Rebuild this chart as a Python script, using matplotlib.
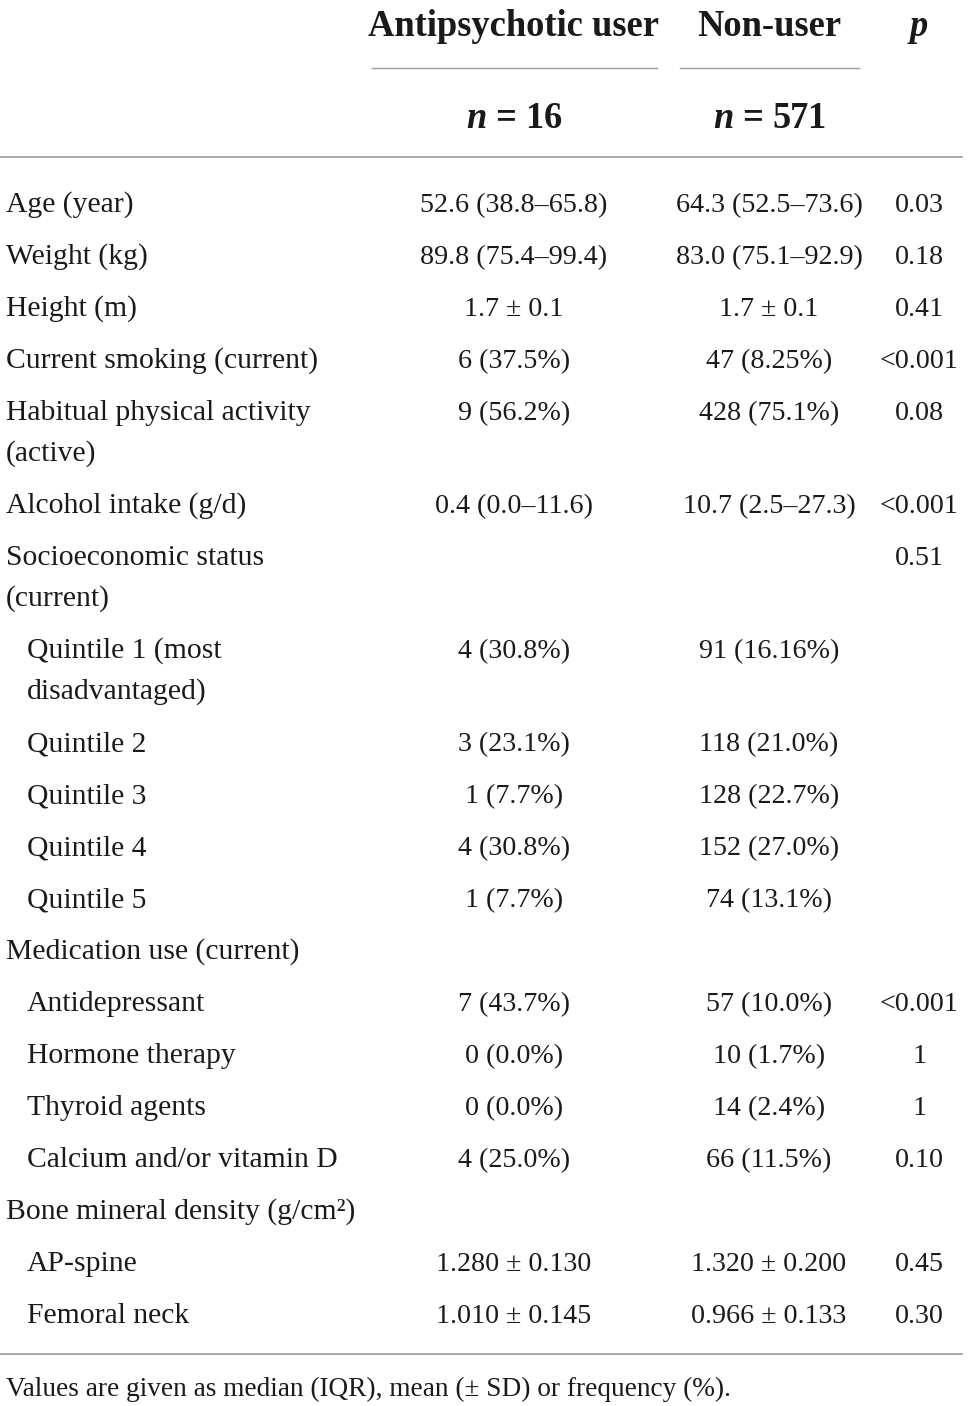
import matplotlib

matplotlib.use("Agg")
import matplotlib.pyplot as plt

# table content
row_labels = [
    "Age (year)",
    "Weight (kg)",
    "Height (m)",
    "Current smoking (current)",
    "Habitual physical activity\n(active)",
    "Alcohol intake (g/d)",
    "Socioeconomic status\n(current)",
    "Quintile 1 (most\ndisadvantaged)",
    "Quintile 2",
    "Quintile 3",
    "Quintile 4",
    "Quintile 5",
    "Medication use (current)",
    "Antidepressant",
    "Hormone therapy",
    "Thyroid agents",
    "Calcium and/or vitamin D",
    "Bone mineral density (g/cm²)",
    "AP-spine",
    "Femoral neck",
]
indent = [0, 0, 0, 0, 0, 0, 0, 1, 1, 1, 1, 1, 0, 1, 1, 1, 1, 0, 1, 1]
user_vals = [
    "52.6 (38.8–65.8)", "89.8 (75.4–99.4)", "1.7 ± 0.1", "6 (37.5%)", "9 (56.2%)",
    "0.4 (0.0–11.6)", "", "4 (30.8%)", "3 (23.1%)", "1 (7.7%)", "4 (30.8%)",
    "1 (7.7%)", "", "7 (43.7%)", "0 (0.0%)", "0 (0.0%)", "4 (25.0%)", "",
    "1.280 ± 0.130", "1.010 ± 0.145",
]
nonuser_vals = [
    "64.3 (52.5–73.6)", "83.0 (75.1–92.9)", "1.7 ± 0.1", "47 (8.25%)", "428 (75.1%)",
    "10.7 (2.5–27.3)", "", "91 (16.16%)", "118 (21.0%)", "128 (22.7%)", "152 (27.0%)",
    "74 (13.1%)", "", "57 (10.0%)", "10 (1.7%)", "14 (2.4%)", "66 (11.5%)", "",
    "1.320 ± 0.200", "0.966 ± 0.133",
]
p_vals = [
    "0.03", "0.18", "0.41", "<0.001", "0.08", "<0.001", "0.51", "", "", "", "", "",
    "", "<0.001", "1", "1", "0.10", "", "0.45", "0.30",
]
headers = ["Antipsychotic user", "Non-user", "p"]
group_n = ["16", "571"]
footnote = "Values are given as median (IQR), mean (± SD) or frequency (%)."

plt.rcParams["font.family"] = ["Liberation Serif", "DejaVu Serif"]
plt.rcParams["mathtext.fontset"] = "custom"
plt.rcParams["mathtext.it"] = "Liberation Serif:italic:bold"
plt.rcParams["mathtext.rm"] = "Liberation Serif:bold"

W, H = 968, 1406
fig = plt.figure(figsize=(W / 100, H / 100), dpi=100)
ax = fig.add_axes([0, 0, 1, 1])
ax.set_xlim(0, W)
ax.set_ylim(H, 0)
ax.axis("off")

col_x = [514, 769, 919]
lab_fs = 21.3
val_fs = 20.2
hfs = 26.3
txt = "#1a1a1a"
rule = "#9a9a9a"

# header
ax.text(col_x[0], 22, headers[0], ha="center", va="center_baseline", fontsize=hfs,
        fontweight="bold", color=txt)
ax.text(col_x[1], 22, headers[1], ha="center", va="center_baseline", fontsize=hfs,
        fontweight="bold", color=txt)
ax.text(col_x[2], 22, headers[2], ha="center", va="center_baseline", fontsize=hfs,
        fontweight="bold", style="italic", color=txt)
ax.plot([372, 657], [68, 68], color=rule, lw=1)
ax.plot([680, 859], [68, 68], color=rule, lw=1)
for x, n in zip(col_x[:2], group_n):
    ax.text(x, 115, r"$n$ = " + n, ha="center", va="center_baseline", fontsize=hfs,
            fontweight="bold", color=txt)
ax.plot([0, 962], [157, 157], color=rule, lw=1.2)

# body rows, all text in a row shares one baseline
y = 212
for lab, ind, u, nu, p in zip(row_labels, indent, user_vals, nonuser_vals, p_vals):
    lines = lab.split("\n")
    for k, line in enumerate(lines):
        ax.text(6 + 21 * ind, y + 41 * k, line, ha="left", va="baseline",
                fontsize=lab_fs, color=txt)
    for x, v in zip(col_x, [u, nu, p]):
        if v:
            ax.text(x, y, v, ha="center", va="baseline", fontsize=val_fs, color=txt)
    y += 52 + 41 * (len(lines) - 1)

ax.plot([0, 962], [1354, 1354], color=rule, lw=1.2)
ax.text(6, 1396, footnote, ha="left", va="baseline", fontsize=19.6, color=txt)

fig.savefig("out.png", dpi=100)
